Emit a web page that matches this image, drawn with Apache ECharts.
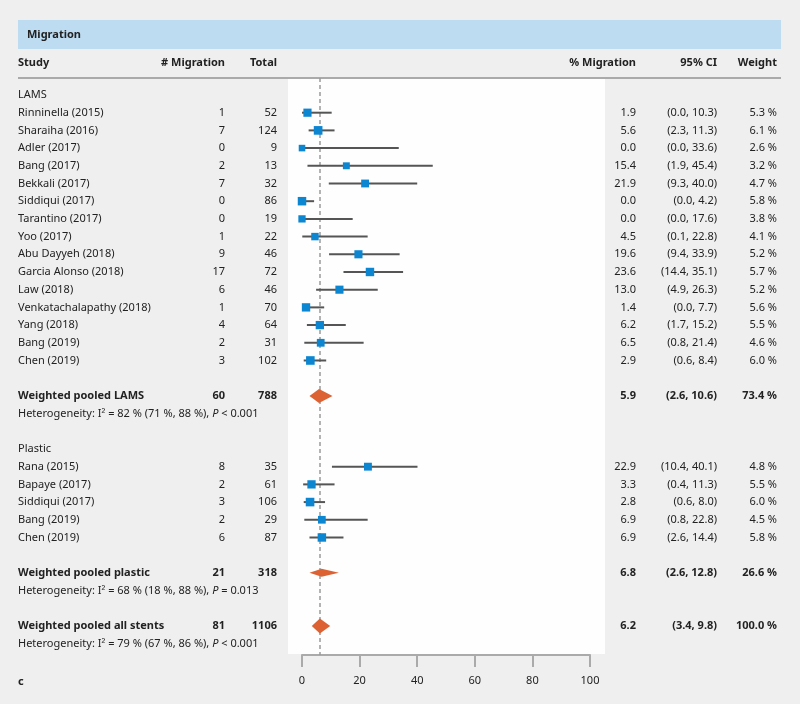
<!DOCTYPE html>
<html><head><meta charset="utf-8">
<script src="https://cdn.jsdelivr.net/npm/echarts@6/dist/echarts.min.js"></script>
<style>html,body{margin:0;padding:0;background:#efefef}#c{width:800px;height:704px}</style>
</head><body><div id="c"></div>
<script>
// ---- data ----
const lamsStudies = ["Rinninella (2015)","Sharaiha (2016)","Adler (2017)","Bang (2017)","Bekkali (2017)","Siddiqui (2017)","Tarantino (2017)","Yoo (2017)","Abu Dayyeh (2018)","Garcia Alonso (2018)","Law (2018)","Venkatachalapathy (2018)","Yang (2018)","Bang (2019)","Chen (2019)"];
const lamsEvents = [1,7,0,2,7,0,0,1,9,17,6,1,4,2,3];
const lamsTotal = [52,124,9,13,32,86,19,22,46,72,46,70,64,31,102];
const lamsPct = [1.9,5.6,0.0,15.4,21.9,0.0,0.0,4.5,19.6,23.6,13.0,1.4,6.2,6.5,2.9];
const lamsLow = [0.0,2.3,0.0,1.9,9.3,0.0,0.0,0.1,9.4,14.4,4.9,0.0,1.7,0.8,0.6];
const lamsHigh = [10.3,11.3,33.6,45.4,40.0,4.2,17.6,22.8,33.9,35.1,26.3,7.7,15.2,21.4,8.4];
const lamsWeight = [5.3,6.1,2.6,3.2,4.7,5.8,3.8,4.1,5.2,5.7,5.2,5.6,5.5,4.6,6.0];

const plasticStudies = ["Rana (2015)","Bapaye (2017)","Siddiqui (2017)","Bang (2019)","Chen (2019)"];
const plasticEvents = [8,2,3,2,6];
const plasticTotal = [35,61,106,29,87];
const plasticPct = [22.9,3.3,2.8,6.9,6.9];
const plasticLow = [10.4,0.4,0.6,0.8,2.6];
const plasticHigh = [40.1,11.3,8.0,22.8,14.4];
const plasticWeight = [4.8,5.5,6.0,4.5,5.8];

const pooledLabels = ["Weighted pooled LAMS","Weighted pooled plastic","Weighted pooled all stents"];
const pooledEvents = [60,21,81];
const pooledTotal = [788,318,1106];
const pooledPct = [5.9,6.8,6.2];
const pooledLow = [2.6,2.6,3.4];
const pooledHigh = [10.6,12.8,9.8];
const pooledWeight = [73.4,26.6,100.0];
const hetI2 = [82,68,79];
const hetLow = [71,18,67];
const hetHigh = [88,88,86];
const hetP = ["< 0.001","= 0.013","< 0.001"];

const xTicks = [0,20,40,60,80,100];

// ---- layout (pixels / row indices) ----
const FONT = '"Noto Sans", "Open Sans", sans-serif';
const FS = 11;
const COL = {study:18, events:225, total:277, pct:636, ci:717, weight:777};
const lamsStart = 1, lamsPooledRow = 17, plasticStart = 21, plasticPooledRow = 27, allPooledRow = 30;
const pooledRows = [lamsPooledRow, plasticPooledRow, allPooledRow];
const diamondHalf = [7, 4, 7.5];

const f1 = v => v.toFixed(1);
const rows = [];
function studyRow(k, name, ev, tot, p, lo, hi, w) {
  rows.push({k, cells:[
    {x:COL.study, a:'left', t:name},
    {x:COL.events, a:'right', t:String(ev)},
    {x:COL.total, a:'right', t:String(tot)},
    {x:COL.pct, a:'right', t:f1(p)},
    {x:COL.ci, a:'right', t:'(' + f1(lo) + ', ' + f1(hi) + ')'},
    {x:COL.weight, a:'right', t:f1(w) + ' %'}
  ]});
}
rows.push({k:0, cells:[{x:COL.study, a:'left', t:'LAMS'}]});
lamsStudies.forEach((s,i)=>studyRow(lamsStart+i, s, lamsEvents[i], lamsTotal[i], lamsPct[i], lamsLow[i], lamsHigh[i], lamsWeight[i]));
rows.push({k:20, cells:[{x:COL.study, a:'left', t:'Plastic'}]});
plasticStudies.forEach((s,i)=>studyRow(plasticStart+i, s, plasticEvents[i], plasticTotal[i], plasticPct[i], plasticLow[i], plasticHigh[i], plasticWeight[i]));
pooledLabels.forEach((s,i)=>{
  const k = pooledRows[i];
  rows.push({k, bold:true, cells:[
    {x:COL.study, a:'left', t:s},
    {x:COL.events, a:'right', t:String(pooledEvents[i])},
    {x:COL.total, a:'right', t:String(pooledTotal[i])},
    {x:COL.pct, a:'right', t:f1(pooledPct[i])},
    {x:COL.ci, a:'right', t:'(' + f1(pooledLow[i]) + ', ' + f1(pooledHigh[i]) + ')'},
    {x:COL.weight, a:'right', t:f1(pooledWeight[i]) + ' %'}
  ]});
  rows.push({k:k+1, cells:[
    {x:COL.study, a:'left', t:'Heterogeneity: I\u00b2 = ' + hetI2[i] + ' % (' + hetLow[i] + ' %, ' + hetHigh[i] + ' %), {i|P} ' + hetP[i], rich:true}
  ]});
});

const studyData = [];
lamsPct.forEach((p,i)=>studyData.push([p, lamsStart+i, lamsWeight[i], lamsLow[i], lamsHigh[i]]));
plasticPct.forEach((p,i)=>studyData.push([p, plasticStart+i, plasticWeight[i], plasticLow[i], plasticHigh[i]]));
const diamondData = pooledPct.map((p,i)=>[p, pooledRows[i], pooledLow[i], pooledHigh[i], diamondHalf[i]]);

const chart = echarts.init(document.getElementById('c'), null, {renderer:'canvas'});
const textColor = '#222';
chart.setOption({
  backgroundColor:'#efefef',
  animation:false,
  grid:{left:302, width:288, top:78, height:577},
  xAxis:{type:'value', min:0, max:100, interval:20, position:'bottom',
    axisLine:{onZero:false, lineStyle:{color:'#aaaaaa', width:2}},
    axisTick:{length:12, lineStyle:{color:'#aaaaaa', width:2}},
    axisLabel:{color:textColor, fontSize:FS, fontFamily:FONT, margin:20},
    splitLine:{show:false}, data:xTicks},
  yAxis:{type:'value', inverse:true, min:-0.96, max:31.64, show:false},
  graphic:[
    {type:'rect', z:-10, shape:{x:288, y:78, width:317, height:576}, style:{fill:'#fdfefd'}},
    {type:'rect', z:-10, shape:{x:18, y:20, width:763, height:29}, style:{fill:'#bddbf1'}},
    {type:'text', style:{x:27, y:34.5, text:'Migration', font:'bold 11px '+FONT, fill:textColor, verticalAlign:'middle'}},
    {type:'text', style:{x:COL.study, y:63, text:'Study', font:'bold 11px '+FONT, fill:textColor, verticalAlign:'middle'}},
    {type:'text', style:{x:COL.events, y:63, text:'# Migration', font:'bold 11px '+FONT, fill:textColor, verticalAlign:'middle', align:'right'}},
    {type:'text', style:{x:COL.total, y:63, text:'Total', font:'bold 11px '+FONT, fill:textColor, verticalAlign:'middle', align:'right'}},
    {type:'text', style:{x:COL.pct, y:63, text:'% Migration', font:'bold 11px '+FONT, fill:textColor, verticalAlign:'middle', align:'right'}},
    {type:'text', style:{x:COL.ci, y:63, text:'95% CI', font:'bold 11px '+FONT, fill:textColor, verticalAlign:'middle', align:'right'}},
    {type:'text', style:{x:COL.weight, y:63, text:'Weight', font:'bold 11px '+FONT, fill:textColor, verticalAlign:'middle', align:'right'}},
    {type:'rect', shape:{x:18, y:77, width:763, height:2}, style:{fill:'#aaaaaa'}},
    {type:'text', style:{x:18, y:682, text:'c', font:'bold 11px '+FONT, fill:textColor, verticalAlign:'middle'}}
  ],
  series:[
    {type:'custom', name:'ci', clip:false, data:studyData, z:2,
      renderItem:(params, api)=>{
        const a = api.coord([api.value(3), api.value(1)]);
        const b = api.coord([api.value(4), api.value(1)]);
        return {type:'line', shape:{x1:a[0], y1:a[1], x2:b[0], y2:b[1]}, style:{stroke:'#555555', lineWidth:2}};
      }},
    {type:'scatter', name:'studies', clip:false, z:3, data:studyData, symbol:'rect',
      symbolSize:v=>5 + v[2]*0.6,
      itemStyle:{color:'#0d86d2', opacity:1},
      markLine:{silent:true, symbol:'none', label:{show:false}, z:1,
        lineStyle:{color:'#9a9a9a', type:[4,3], width:1.5},
        data:[{xAxis:pooledPct[2]}]}},
    {type:'custom', name:'pooled', clip:false, z:3, data:diamondData,
      renderItem:(params, api)=>{
        const r = api.value(1), h = api.value(4);
        const l = api.coord([api.value(2), r]);
        const m = api.coord([api.value(0), r]);
        const rr = api.coord([api.value(3), r]);
        return {type:'polygon', shape:{points:[[l[0],l[1]],[m[0],m[1]-h],[rr[0],rr[1]],[m[0],m[1]+h]]}, style:{fill:'#dc6233'}};
      }},
    {type:'custom', name:'table', clip:false, silent:true, data:rows.map(r=>[0, r.k]),
      renderItem:(params, api)=>{
        const r = rows[params.dataIndex];
        const y = api.coord([0, r.k])[1];
        return {type:'group', children:r.cells.map(c=>({type:'text', style:{
          x:c.x, y:y, text:c.t, align:c.a, verticalAlign:'middle',
          font:(r.bold?'bold ':'') + FS + 'px ' + FONT, fill:textColor,
          rich: c.rich ? {i:{fontStyle:'italic', fontSize:FS, fontFamily:FONT, fill:textColor}} : undefined
        }}))};
      }}
  ]
});
</script></body></html>
